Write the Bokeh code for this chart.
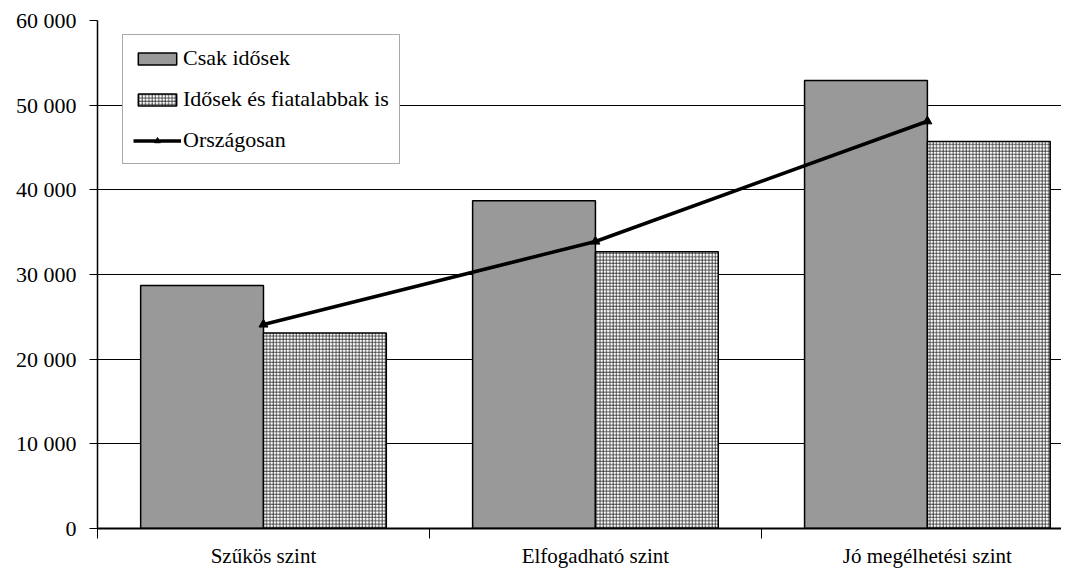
from bokeh.plotting import figure
from bokeh.models import FixedTicker, Range1d, Legend, LegendItem
from bokeh.embed import file_html
from bokeh.resources import INLINE

categories = ["Szűkös szint", "Elfogadható szint", "Jó megélhetési szint"]
series_names = ["Csak idősek", "Idősek és fiatalabbak is", "Országosan"]
csak_idosek = [28700, 38700, 52900]
idosek_es_fiatalabbak = [23100, 32700, 45700]
orszagosan = [24100, 33900, 48100]
y_ticks = [0, 10000, 20000, 30000, 40000, 50000, 60000]
y_tick_labels = ["0", "10 000", "20 000", "30 000", "40 000", "50 000", "60 000"]

FONT = "Liberation Serif"

centers = [i + 0.5 for i in range(len(categories))]
bar_w = 0.37

p = figure(width=1061, height=570,
           x_range=Range1d(0, 2.904), y_range=Range1d(0, 60000),
           output_backend="svg", toolbar_location=None,
           min_border_left=97, min_border_right=0,
           min_border_top=20, min_border_bottom=30)
p.outline_line_color = None
p.background_fill_color = "white"

r1 = p.vbar(x=[c - bar_w / 2 for c in centers], width=bar_w, top=csak_idosek,
            fill_color="#999999", line_color="black", line_width=1.5)
r2 = p.vbar(x=[c + bar_w / 2 for c in centers], width=bar_w, top=idosek_es_fiatalabbak,
            fill_color="white", line_color="black", line_width=1.5,
            hatch_pattern="+", hatch_color="#222222", hatch_scale=3.3, hatch_weight=0.8)
r3 = p.line(centers, orszagosan, line_color="black", line_width=3.5)
r4 = p.scatter(centers, orszagosan, marker="triangle", size=9,
               fill_color="black", line_color="black")

# axes
p.xgrid.visible = False
p.ygrid.ticker = FixedTicker(ticks=y_ticks)
p.ygrid.grid_line_color = "black"
p.ygrid.grid_line_width = 1

ya = p.yaxis[0]
ya.ticker = FixedTicker(ticks=y_ticks)
ya.major_label_overrides = {t: l for t, l in zip(y_ticks, y_tick_labels)}
ya.axis_line_color = "black"
ya.axis_line_width = 1.5
ya.major_tick_out = 8
ya.major_tick_in = 0
ya.major_tick_line_color = "black"
ya.major_label_standoff = 13
ya.major_label_text_font = FONT
ya.major_label_text_font_size = "22px"
ya.major_label_text_color = "black"

xa = p.xaxis[0]
xa.ticker = FixedTicker(ticks=centers, minor_ticks=list(range(len(categories) + 1)))
xa.major_label_overrides = {c: n for c, n in zip(centers, categories)}
xa.axis_line_color = "black"
xa.axis_line_width = 2
xa.major_tick_out = 0
xa.major_tick_in = 0
xa.minor_tick_out = 10
xa.minor_tick_in = 0
xa.minor_tick_line_color = "black"
xa.minor_tick_line_width = 1
xa.major_label_standoff = 5
xa.major_label_text_font = FONT
xa.major_label_text_font_size = "21px"
xa.major_label_text_color = "black"

legend = Legend(items=[
    LegendItem(label=series_names[0], renderers=[r1]),
    LegendItem(label=series_names[1], renderers=[r2]),
    LegendItem(label=series_names[2], renderers=[r3, r4]),
], location=(25, 364))
legend.border_line_color = "#555555"
legend.border_line_width = 1
legend.background_fill_color = "white"
legend.background_fill_alpha = 1
legend.label_text_font = FONT
legend.label_text_font_size = "22px"
legend.label_text_color = "black"
legend.glyph_width = 48
legend.glyph_height = 15
legend.label_standoff = 2
legend.spacing = 15
legend.padding = 10
legend.margin = 0
p.add_layout(legend)

open("out.html", "w").write(file_html(p, INLINE))
